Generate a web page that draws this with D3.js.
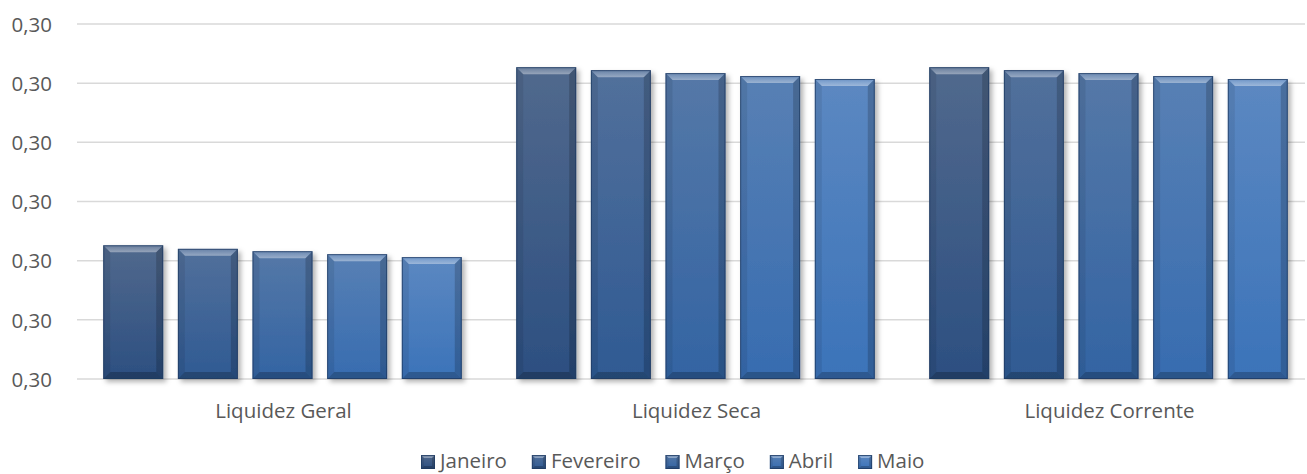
<!DOCTYPE html>
<html>
<head>
<meta charset="utf-8">
<script src="https://cdn.jsdelivr.net/npm/d3@7"></script>
<style>
  html, body { margin: 0; padding: 0; background: #fff; }
  svg { display: block; font-family: "Open Sans", "Noto Sans", sans-serif; }
</style>
</head>
<body>
<svg id="chart" width="1307" height="474"></svg>
<script>
// ---- data ----
const categories = ["Liquidez Geral", "Liquidez Seca", "Liquidez Corrente"];
const seriesNames = ["Janeiro", "Fevereiro", "Março", "Abril", "Maio"];
const janeiro   = [0.29926, 0.30227, 0.30227];
const fevereiro = [0.29920, 0.30222, 0.30222];
const marco     = [0.29916, 0.30217, 0.30217];
const abril     = [0.29911, 0.30212, 0.30212];
const maio      = [0.29906, 0.30207, 0.30207];
const yTicks = [0.297, 0.298, 0.299, 0.300, 0.301, 0.302, 0.303];

const seriesValues = [janeiro, fevereiro, marco, abril, maio];
const faceTop    = ["#51698d", "#52709b", "#5578a7", "#5880b4", "#5c88c1"];
const faceBottom = ["#2c4f81", "#2f5a93", "#3364a3", "#376cb0", "#3b73b9"];

const svg = d3.select("#chart");
const plot = { left: 76, right: 1315, top: 24, bottom: 379 };
const FS = "20.5px";

const locale = d3.formatLocale({ decimal: ",", thousands: ".", grouping: [3], currency: ["R$", ""] });
const fmt = locale.format(".2f");

const x0 = d3.scaleBand().domain(categories).range([plot.left, plot.right]).paddingInner(0).paddingOuter(0);
const x1 = d3.scaleBand().domain(seriesNames).range([0, x0.bandwidth()]).paddingInner(0.197).paddingOuter(0.365);
const y = d3.scaleLinear().domain([yTicks[0], yTicks[yTicks.length - 1]]).range([plot.bottom, plot.top]);

const defs = svg.append("defs");
seriesNames.forEach((s, i) => {
  const g = defs.append("linearGradient").attr("id", "face" + i)
    .attr("x1", 0).attr("y1", 0).attr("x2", 0).attr("y2", 1);
  g.append("stop").attr("offset", "0%").attr("stop-color", faceTop[i]);
  g.append("stop").attr("offset", "100%").attr("stop-color", faceBottom[i]);
});
const hl = defs.append("linearGradient").attr("id", "hl").attr("x1", 0).attr("y1", 0).attr("x2", 0).attr("y2", 1);
hl.append("stop").attr("offset", "0%").attr("stop-color", "#fff").attr("stop-opacity", 0.12);
hl.append("stop").attr("offset", "100%").attr("stop-color", "#fff").attr("stop-opacity", 0.4);
const f = defs.append("filter").attr("id", "shadow").attr("x", "-20%").attr("y", "-20%").attr("width", "140%").attr("height", "140%");
f.append("feDropShadow").attr("dx", 3).attr("dy", 3).attr("stdDeviation", 2.5)
  .attr("flood-color", "#000").attr("flood-opacity", 0.3);

// ---- gridlines ----
svg.append("g").selectAll("line").data(yTicks).join("line")
  .attr("x1", plot.left + 1).attr("x2", 1305)
  .attr("y1", d => y(d)).attr("y2", d => y(d))
  .attr("stroke", "#d9d9d9").attr("stroke-width", 1.5);

const yAxis = d3.axisLeft(y).tickValues(yTicks).tickFormat(fmt).tickSize(0).tickPadding(0);
const ya = svg.append("g").attr("transform", `translate(52,0)`).call(yAxis);
ya.select(".domain").remove();
ya.selectAll("text").attr("fill", "#595959").style("font-size", FS)
  .style("font-family", '"Open Sans", sans-serif').attr("dy", "0.35em");

// ---- bars ----
function bevelBar(g, x, yTop, w, h, i, b0) {
  const b = Math.min(b0, h / 2);
  g.append("rect").attr("x", x).attr("y", yTop).attr("width", w).attr("height", h)
    .attr("fill", `url(#face${i})`);
  const pts = (arr) => arr.map(p => p.join(",")).join(" ");
  g.append("polygon").attr("points", pts([[x, yTop], [x + w, yTop], [x + w - b, yTop + b], [x + b, yTop + b]]))
    .attr("fill", "url(#hl)");
  g.append("polygon").attr("points", pts([[x, yTop], [x + b, yTop + b], [x + b, yTop + h - b], [x, yTop + h]]))
    .attr("fill", "#000").attr("fill-opacity", 0.08);
  g.append("polygon").attr("points", pts([[x + w, yTop], [x + w, yTop + h], [x + w - b, yTop + h - b], [x + w - b, yTop + b]]))
    .attr("fill", "#000").attr("fill-opacity", 0.18);
  g.append("polygon").attr("points", pts([[x, yTop + h], [x + b, yTop + h - b], [x + w - b, yTop + h - b], [x + w, yTop + h]]))
    .attr("fill", "#000").attr("fill-opacity", 0.22);
  g.append("rect").attr("x", x + 0.5).attr("y", yTop + 0.5).attr("width", w - 1).attr("height", h - 1)
    .attr("fill", "none").attr("stroke", "#1f3a60").attr("stroke-opacity", 0.75).attr("stroke-width", 1);
}

const barsG = svg.append("g");
categories.forEach((c, ci) => {
  seriesNames.forEach((s, si) => {
    const v = seriesValues[si][ci];
    const bx = x0(c) + x1(s);
    const by = y(v);
    const g = barsG.append("g").attr("filter", "url(#shadow)");
    bevelBar(g, bx, by, x1.bandwidth(), y(yTicks[0]) - by, si, 7);
  });
});

// ---- category labels ----
svg.append("g").selectAll("text").data(categories).join("text")
  .attr("x", d => x0(d) + x0.bandwidth() / 2 + 1)
  .attr("y", 418)
  .attr("text-anchor", "middle")
  .attr("fill", "#595959").style("font-size", FS)
  .text(d => d);

// ---- legend ----
const lg = svg.append("g");
let lx = 421;
seriesNames.forEach((s, i) => {
  const item = lg.append("g");
  bevelBar(item, lx, 455, 14, 14, i, 3);
  const t = item.append("text").attr("x", lx + 19).attr("y", 468)
    .attr("fill", "#595959").style("font-size", FS).text(s);
  const tw = t.node().getComputedTextLength();
  lx += 19 + tw + 25;
});
</script>
</body>
</html>
